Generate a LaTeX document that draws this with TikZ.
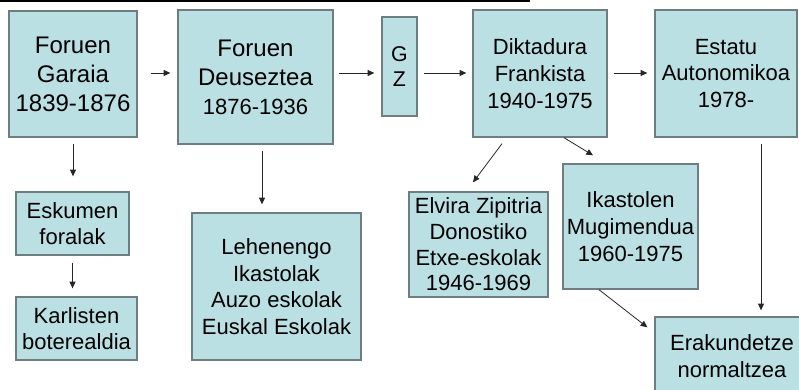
\documentclass[tikz,border=0pt]{standalone}
\usepackage{fontspec}
\setmainfont{Liberation Sans}
\usetikzlibrary{arrows.meta}
\definecolor{boxfill}{RGB}{187,224,227}
\definecolor{boxline}{RGB}{110,126,128}
\tikzset{
  box/.style={draw=boxline, fill=boxfill, line width=1pt, align=center, inner sep=0pt,
              font=\fontsize{16.5}{20}\selectfont},
  big/.style={font=\fontsize{18}{21.75}\selectfont},
  arr/.style={draw=black!85, line width=0.6pt, -{Triangle[length=5pt,width=4.5pt]}},
}
\begin{document}
\begin{tikzpicture}[x=0.75pt,y=-0.75pt]
\useasboundingbox (0,0) rectangle (799,389);
\clip (0,0) rectangle (799,389);
\draw[line width=1.5pt] (0,1) -- (530,1);

\node[box,big,minimum width=96pt,minimum height=94.5pt] (fg) at (73,74) {Foruen\\Garaia\\1839-1876};
\node[box,big,minimum width=116.25pt,minimum height=100.5pt] (fd) at (255.5,77)
  {Foruen\\Deuseztea\\{\fontsize{16.5}{20}\selectfont 1876-1936}};
\node[box,minimum width=26.25pt,minimum height=74.25pt,font=\fontsize{16}{19}\selectfont] (gz) at (399.5,66.5) {G\\Z};
\node[box,minimum width=100.5pt,minimum height=95.25pt] (dk) at (540,73.5) {Diktadura\\Frankista\\1940-1975};
\node[box,minimum width=106.5pt,minimum height=95.25pt] (ea) at (726,73.5) {Estatu\\Autonomikoa\\1978-};
\node[box,minimum width=84.75pt,minimum height=47.25pt] (ef) at (72.5,223.5) {Eskumen\\foralak};
\node[box,minimum width=90.75pt,minimum height=47.25pt] (kb) at (76.5,328.5) {Karlisten\\boterealdia};
\node[box,minimum width=126.75pt,minimum height=110.25pt] (li) at (276.5,286.5) {Lehenengo\\Ikastolak\\Auzo eskolak\\Euskal Eskolak};
\node[box,minimum width=104.25pt,minimum height=78.75pt,font=\fontsize{16.5}{19.25}\selectfont] (ez) at (478.5,244.5) {Elvira Zipitria\\Donostiko\\Etxe-eskolak\\1946-1969};
\node[box,minimum width=101.25pt,minimum height=93.75pt] (im) at (630.5,226.5) {Ikastolen\\Mugimendua\\1960-1975};
\node[box,minimum width=115.5pt,minimum height=58.5pt] (en) at (732,356) {Erakundetze\\normaltzea};

\coordinate (row) at (0,73);
\draw[arr,shorten <=9.75pt,shorten >=5.25pt] (fg.east |- row) -- (fd.west |- row);
\draw[arr,shorten <=3.75pt,shorten >=5.25pt] (fd.east |- row) -- (gz.west |- row);
\draw[arr,shorten <=4.5pt,shorten >=4.5pt] (gz.east |- row) -- (dk.west |- row);
\draw[arr,shorten <=4.5pt,shorten >=5.25pt] (dk.east |- row) -- (ea.west |- row);

\draw[arr,shorten <=4.5pt,shorten >=11.25pt] (fg.south) -- (fg.south |- ef.north);
\draw[arr,shorten <=5.25pt,shorten >=6pt] (ef.south) -- (ef.south |- kb.north);

\coordinate (fdl) at ([xshift=4.875pt]fd.south);
\draw[arr,shorten <=4.5pt,shorten >=6pt] (fdl) -- (fdl |- li.north);

\coordinate (dkA) at ([xshift=-28.5pt,yshift=-4.5pt]dk.south);
\coordinate (ezA) at ([xshift=-4.125pt,yshift=6.75pt]ez.north);
\draw[arr] (dkA) -- (ezA);

\coordinate (dkB) at ([xshift=18pt]dk.south);
\coordinate (imA) at ([xshift=-28.125pt,yshift=6pt]im.north);
\draw[arr] (dkB) -- (imA);

\coordinate (imB) at ([xshift=-23.625pt]im.south);
\coordinate (enA) at ([xshift=-5.25pt,yshift=-8.25pt]en.north west);
\draw[arr] (imB) -- (enA);

\coordinate (eaA) at ([xshift=26.25pt]ea.south);
\draw[arr,shorten <=4.5pt,shorten >=4.5pt] (eaA) -- (eaA |- en.north);
\end{tikzpicture}
\end{document}
